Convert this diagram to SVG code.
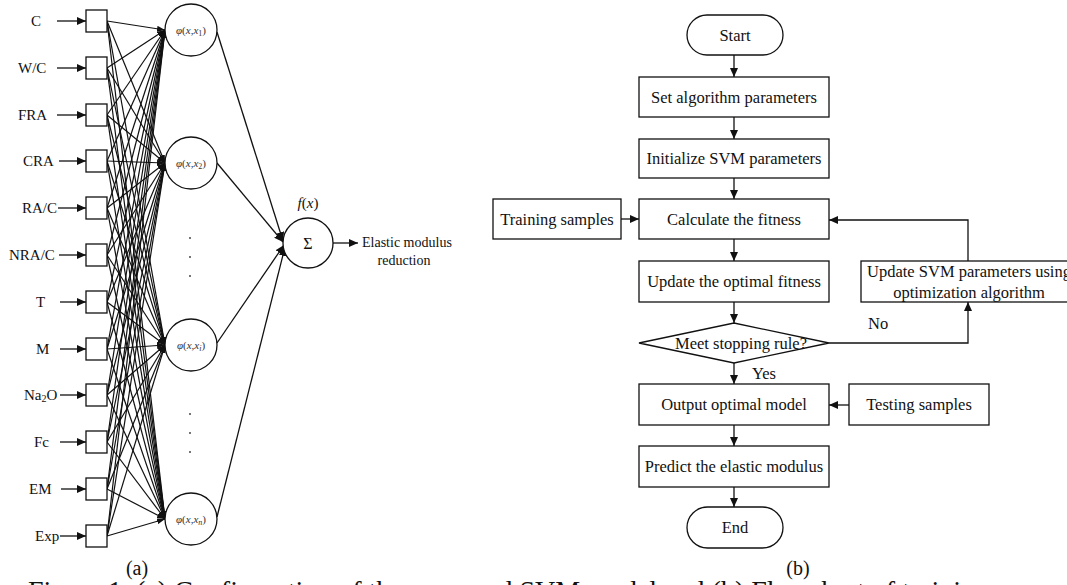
<svg xmlns="http://www.w3.org/2000/svg" width="1067" height="585" viewBox="0 0 1067 585">
<style>
text{font-family:"Liberation Serif","Times New Roman",serif;fill:#111}
.lbl{font-size:15px}
.phi{font-size:11px;fill:#333}
.fc{font-size:16.5px}
.box{fill:#fff;stroke:#111;stroke-width:1.3}
.c{stroke:#111;stroke-width:1.3;fill:none;marker-end:url(#ah)}
.h{stroke:#111;stroke-width:1.2;fill:none;marker-end:url(#ah2)}
.dot{fill:#333}
</style>
<defs>
<marker id="ah" markerUnits="userSpaceOnUse" markerWidth="9" markerHeight="8" refX="9" refY="4" orient="auto"><path d="M0,0 L9,4 L0,8 z" fill="#111"/></marker>
<marker id="ah2" markerUnits="userSpaceOnUse" markerWidth="8" markerHeight="6" refX="8" refY="3" orient="auto"><path d="M0,0 L8,3 L0,6 z" fill="#111"/></marker>
</defs>
<rect width="1067" height="585" fill="#fff"/>

<g id="connectors">
<line class="c" x1="57" y1="21" x2="86" y2="21"/>
<line class="c" x1="57" y1="68" x2="86" y2="68"/>
<line class="c" x1="57" y1="115" x2="86" y2="115"/>
<line class="c" x1="59" y1="161" x2="86" y2="161"/>
<line class="c" x1="58" y1="208" x2="86" y2="208"/>
<line class="c" x1="59" y1="255" x2="86" y2="255"/>
<line class="c" x1="60" y1="302" x2="86" y2="302"/>
<line class="c" x1="60" y1="349" x2="86" y2="349"/>
<line class="c" x1="60" y1="395" x2="86" y2="395"/>
<line class="c" x1="60" y1="442" x2="86" y2="442"/>
<line class="c" x1="61" y1="489" x2="86" y2="489"/>
<line class="c" x1="60" y1="536" x2="86" y2="536"/>
<g id="hidden-links">
<line class="h" x1="107" y1="21" x2="165" y2="30"/><line class="h" x1="107" y1="21" x2="165" y2="163"/><line class="h" x1="107" y1="21" x2="165" y2="345"/><line class="h" x1="107" y1="21" x2="165" y2="519"/>
<line class="h" x1="107" y1="68" x2="165" y2="30"/><line class="h" x1="107" y1="68" x2="165" y2="163"/><line class="h" x1="107" y1="68" x2="165" y2="345"/><line class="h" x1="107" y1="68" x2="165" y2="519"/>
<line class="h" x1="107" y1="115" x2="165" y2="30"/><line class="h" x1="107" y1="115" x2="165" y2="163"/><line class="h" x1="107" y1="115" x2="165" y2="345"/><line class="h" x1="107" y1="115" x2="165" y2="519"/>
<line class="h" x1="107" y1="161" x2="165" y2="30"/><line class="h" x1="107" y1="161" x2="165" y2="163"/><line class="h" x1="107" y1="161" x2="165" y2="345"/><line class="h" x1="107" y1="161" x2="165" y2="519"/>
<line class="h" x1="107" y1="208" x2="165" y2="30"/><line class="h" x1="107" y1="208" x2="165" y2="163"/><line class="h" x1="107" y1="208" x2="165" y2="345"/><line class="h" x1="107" y1="208" x2="165" y2="519"/>
<line class="h" x1="107" y1="255" x2="165" y2="30"/><line class="h" x1="107" y1="255" x2="165" y2="163"/><line class="h" x1="107" y1="255" x2="165" y2="345"/><line class="h" x1="107" y1="255" x2="165" y2="519"/>
<line class="h" x1="107" y1="302" x2="165" y2="30"/><line class="h" x1="107" y1="302" x2="165" y2="163"/><line class="h" x1="107" y1="302" x2="165" y2="345"/><line class="h" x1="107" y1="302" x2="165" y2="519"/>
<line class="h" x1="107" y1="349" x2="165" y2="30"/><line class="h" x1="107" y1="349" x2="165" y2="163"/><line class="h" x1="107" y1="349" x2="165" y2="345"/><line class="h" x1="107" y1="349" x2="165" y2="519"/>
<line class="h" x1="107" y1="395" x2="165" y2="30"/><line class="h" x1="107" y1="395" x2="165" y2="163"/><line class="h" x1="107" y1="395" x2="165" y2="345"/><line class="h" x1="107" y1="395" x2="165" y2="519"/>
<line class="h" x1="107" y1="442" x2="165" y2="30"/><line class="h" x1="107" y1="442" x2="165" y2="163"/><line class="h" x1="107" y1="442" x2="165" y2="345"/><line class="h" x1="107" y1="442" x2="165" y2="519"/>
<line class="h" x1="107" y1="489" x2="165" y2="30"/><line class="h" x1="107" y1="489" x2="165" y2="163"/><line class="h" x1="107" y1="489" x2="165" y2="345"/><line class="h" x1="107" y1="489" x2="165" y2="519"/>
<line class="h" x1="107" y1="536" x2="165" y2="30"/><line class="h" x1="107" y1="536" x2="165" y2="163"/><line class="h" x1="107" y1="536" x2="165" y2="345"/><line class="h" x1="107" y1="536" x2="165" y2="519"/>
</g>
<line class="c" x1="217" y1="32" x2="283" y2="241"/>
<line class="c" x1="217" y1="163" x2="283" y2="242"/>
<line class="c" x1="217" y1="343" x2="284" y2="245"/>
<line class="c" x1="217" y1="517" x2="285" y2="247"/>
<line class="c" x1="333" y1="243" x2="358" y2="243"/>
<line class="c" x1="734" y1="55" x2="734" y2="77"/>
<line class="c" x1="734" y1="117" x2="734" y2="139"/>
<line class="c" x1="734" y1="178" x2="734" y2="199"/>
<line class="c" x1="621" y1="219" x2="639" y2="219"/>
<line class="c" x1="734" y1="239" x2="734" y2="261"/>
<line class="c" x1="734" y1="302" x2="734" y2="323"/>
<line class="c" x1="734" y1="363" x2="734" y2="384"/>
<line class="c" x1="849" y1="405" x2="829" y2="405"/>
<line class="c" x1="734" y1="425" x2="734" y2="446"/>
<line class="c" x1="734" y1="487" x2="734" y2="507"/>
<polyline class="c" points="829,343 968,343 968,302"/>
<polyline class="c" points="968,261 968,220 829,220"/>
</g>

<g id="inputs">
<text class="lbl" x="31" y="26">C</text>
<text class="lbl" x="18" y="73">W/C</text>
<text class="lbl" x="18" y="120">FRA</text>
<text class="lbl" x="23" y="166">CRA</text>
<text class="lbl" x="22" y="213">RA/C</text>
<text class="lbl" x="9" y="260">NRA/C</text>
<text class="lbl" x="36" y="307">T</text>
<text class="lbl" x="36" y="354">M</text>
<text class="lbl" x="24" y="400">Na<tspan font-size="10" dy="2">2</tspan><tspan dy="-2">O</tspan></text>
<text class="lbl" x="34" y="447">Fc</text>
<text class="lbl" x="29" y="494">EM</text>
<text class="lbl" x="35" y="541">Exp</text>
</g>

<g id="input-boxes">
<rect class="box" x="86" y="10" width="21" height="22"/>
<rect class="box" x="86" y="57" width="21" height="22"/>
<rect class="box" x="86" y="104" width="21" height="22"/>
<rect class="box" x="86" y="150" width="21" height="22"/>
<rect class="box" x="86" y="197" width="21" height="22"/>
<rect class="box" x="86" y="244" width="21" height="22"/>
<rect class="box" x="86" y="291" width="21" height="22"/>
<rect class="box" x="86" y="338" width="21" height="22"/>
<rect class="box" x="86" y="384" width="21" height="22"/>
<rect class="box" x="86" y="431" width="21" height="22"/>
<rect class="box" x="86" y="478" width="21" height="22"/>
<rect class="box" x="86" y="525" width="21" height="22"/>
</g>

<g id="hidden1">
<circle class="box" cx="191" cy="30" r="26"/>
<text class="phi" x="191" y="34" text-anchor="middle"><tspan font-style="italic">φ</tspan>(<tspan font-style="italic">x</tspan>,<tspan font-style="italic">x</tspan><tspan font-size="8" dy="2">1</tspan><tspan dy="-2">)</tspan></text>
</g>
<g id="hidden2">
<circle class="box" cx="191" cy="163" r="26"/>
<text class="phi" x="191" y="167" text-anchor="middle"><tspan font-style="italic">φ</tspan>(<tspan font-style="italic">x</tspan>,<tspan font-style="italic">x</tspan><tspan font-size="8" dy="2">2</tspan><tspan dy="-2">)</tspan></text>
</g>
<g id="hiddeni">
<circle class="box" cx="191" cy="345" r="26"/>
<text class="phi" x="191" y="349" text-anchor="middle"><tspan font-style="italic">φ</tspan>(<tspan font-style="italic">x</tspan>,<tspan font-style="italic">x</tspan><tspan font-size="8" dy="2" font-style="italic">i</tspan><tspan dy="-2">)</tspan></text>
</g>
<g id="hiddenn">
<circle class="box" cx="191" cy="519" r="26"/>
<text class="phi" x="191" y="523" text-anchor="middle"><tspan font-style="italic">φ</tspan>(<tspan font-style="italic">x</tspan>,<tspan font-style="italic">x</tspan><tspan font-size="8" dy="2" font-style="italic">n</tspan><tspan dy="-2">)</tspan></text>
</g>
<g id="dots">
<circle class="dot" cx="190" cy="238" r="0.9"/><circle class="dot" cx="190" cy="257" r="0.9"/><circle class="dot" cx="190" cy="276" r="0.9"/>
<circle class="dot" cx="190" cy="414" r="0.9"/><circle class="dot" cx="190" cy="433" r="0.9"/><circle class="dot" cx="190" cy="452" r="0.9"/>
</g>

<g id="sum">
<circle class="box" cx="308" cy="243" r="25"/>
<text x="308" y="249" text-anchor="middle" font-size="16">Σ</text>
<text x="308" y="208" text-anchor="middle" font-size="15" font-style="italic">f<tspan font-style="normal">(</tspan>x<tspan font-style="normal">)</tspan></text>
</g>
<g id="output">
<text x="362" y="247" font-size="14">Elastic modulus</text>
<text x="404" y="265" font-size="14" text-anchor="middle">reduction</text>
</g>
<text x="137" y="575" font-size="20" text-anchor="middle">(a)</text>

<g id="start"><rect class="box" x="687" y="15" width="96" height="40" rx="20"/><text class="fc" x="735" y="40.5" text-anchor="middle">Start</text></g>
<g id="set-params"><rect class="box" x="639" y="77" width="190" height="40"/><text class="fc" x="734" y="102.5" text-anchor="middle">Set algorithm parameters</text></g>
<g id="init-svm"><rect class="box" x="639" y="139" width="190" height="39"/><text class="fc" x="734" y="164" text-anchor="middle">Initialize SVM parameters</text></g>
<g id="training"><rect class="box" x="493" y="199" width="128" height="40"/><text class="fc" x="557" y="224.5" text-anchor="middle">Training samples</text></g>
<g id="calc-fitness"><rect class="box" x="639" y="199" width="190" height="40"/><text class="fc" x="734" y="224.5" text-anchor="middle">Calculate the fitness</text></g>
<g id="update-fitness"><rect class="box" x="639" y="261" width="190" height="41"/><text class="fc" x="734" y="287" text-anchor="middle">Update the optimal fitness</text></g>
<g id="update-svm"><rect class="box" x="861" y="261" width="216" height="41"/><text class="fc" x="969" y="277" text-anchor="middle">Update SVM parameters using</text><text class="fc" x="969" y="298" text-anchor="middle">optimization algorithm</text></g>
<g id="stop-rule"><polygon class="box" points="639,343 734,323 829,343 734,363"/><text class="fc" x="741" y="349" text-anchor="middle">Meet stopping rule?</text></g>
<text class="fc" x="752" y="379">Yes</text>
<text class="fc" x="868" y="329">No</text>
<g id="output-model"><rect class="box" x="639" y="384" width="190" height="41"/><text class="fc" x="734" y="410" text-anchor="middle">Output optimal model</text></g>
<g id="testing"><rect class="box" x="849" y="384" width="140" height="41"/><text class="fc" x="919" y="410" text-anchor="middle">Testing samples</text></g>
<g id="predict"><rect class="box" x="639" y="446" width="190" height="41"/><text class="fc" x="734" y="472" text-anchor="middle">Predict the elastic modulus</text></g>
<g id="end"><rect class="box" x="687" y="507" width="96" height="41" rx="20.5"/><text class="fc" x="735" y="533" text-anchor="middle">End</text></g>
<text x="798" y="575" font-size="20" text-anchor="middle">(b)</text>

<text x="28" y="600" font-size="28">Figure 1. (a) Configuration of the proposed SVM model and (b) Flowchart of training</text>
</svg>
